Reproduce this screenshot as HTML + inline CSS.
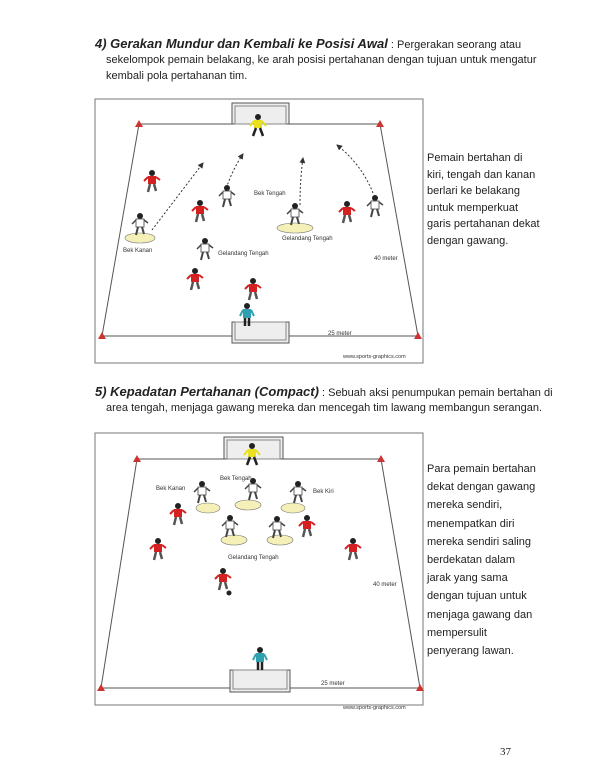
<!DOCTYPE html>
<html><head><meta charset="utf-8"><style>
body{margin:0;background:#fff;width:600px;height:775px;position:relative;overflow:hidden;font-family:"Liberation Sans",sans-serif;color:#222}
.t{position:absolute;font-size:11px;line-height:16px;white-space:nowrap}
.h{font-weight:bold;font-style:italic;font-size:13px}
svg{position:absolute;left:0;top:0}
</style></head><body>
<div class="t" style="left:95px;top:36px"><span class="h">4) Gerakan Mundur dan Kembali ke Posisi Awal</span> : Pergerakan seorang atau</div>
<div class="t" style="left:106px;top:52px">sekelompok pemain belakang, ke arah posisi pertahanan dengan tujuan untuk mengatur</div>
<div class="t" style="left:106px;top:68px">kembali pola pertahanan tim.</div>
<div class="t" style="left:427px;top:150px;line-height:16.5px">Pemain bertahan di<br>kiri, tengah dan kanan<br>berlari ke belakang<br>untuk memperkuat<br>garis pertahanan dekat<br>dengan gawang.</div>
<div class="t" style="left:95px;top:384px"><span class="h">5) Kepadatan Pertahanan (Compact)</span> : Sebuah aksi penumpukan pemain bertahan di</div>
<div class="t" style="left:106px;top:400px">area tengah, menjaga gawang mereka dan mencegah tim lawang membangun serangan.</div>
<div class="t" style="left:427px;top:460px;line-height:18.2px">Para pemain bertahan<br>dekat dengan gawang<br>mereka sendiri,<br>menempatkan diri<br>mereka sendiri saling<br>berdekatan dalam<br>jarak yang sama<br>dengan tujuan untuk<br>menjaga gawang dan<br>mempersulit<br>penyerang lawan.</div>
<div class="t" style="left:500px;top:744px;font-family:'Liberation Serif',serif">37</div>
<svg width="600" height="775" font-family="Liberation Sans,sans-serif" font-size="6" fill="#333">
<defs>
<marker id="ah" markerWidth="6" markerHeight="6" refX="5" refY="3" orient="auto" markerUnits="userSpaceOnUse"><path d="M0 0L6 3L0 6Z" fill="#333"/></marker>
<g id="pr"><circle cx="0" cy="-10" r="3" fill="#222"/><rect x="-4" y="-7" width="8" height="8" fill="#d42020"/><path d="M-4-6L-8-2M4-6L8-3" stroke="#d42020" stroke-width="2"/><path d="M-2 1L-4 9M2 1L4 8" stroke="#555" stroke-width="2.5"/></g>
<g id="pw"><circle cx="0" cy="-10" r="3" fill="#222"/><rect x="-4" y="-7" width="8" height="8" fill="#fff" stroke="#444" stroke-width="0.8"/><path d="M-4-6L-8-2M4-6L8-3" stroke="#444" stroke-width="1.5"/><path d="M-2 1L-4 9M2 1L4 8" stroke="#444" stroke-width="2"/></g>
<g id="py"><circle cx="0" cy="-10" r="3" fill="#222"/><rect x="-4" y="-7" width="8" height="8" fill="#e8e020"/><path d="M-4-6L-8-1M4-6L8-1" stroke="#e8e020" stroke-width="2"/><path d="M-2 1L-5 9M2 1L5 9" stroke="#222" stroke-width="2.5"/></g>
<g id="pb"><circle cx="0" cy="-10" r="3" fill="#222"/><rect x="-4" y="-7" width="8" height="9" fill="#30a0b0"/><path d="M-4-6L-7 0M4-6L7 0" stroke="#30a0b0" stroke-width="2"/><path d="M-2 2L-2 10M2 2L2 10" stroke="#222" stroke-width="2.5"/></g>
<g id="cone"><path d="M-4 3L0-4L4 3Z" fill="#c33"/></g>
</defs>
<rect x="95" y="99" width="328" height="264" fill="#fff" stroke="#777" stroke-width="1"/>
<path d="M139 124L380 124L418 336L102 336Z" fill="none" stroke="#555" stroke-width="1"/>
<rect x="232" y="103" width="57" height="21" fill="#eee" stroke="#555"/><rect x="235" y="106" width="51" height="18" fill="none" stroke="#888"/>
<rect x="232" y="322" width="57" height="21" fill="#eee" stroke="#555"/><rect x="235" y="322" width="51" height="18" fill="none" stroke="#888"/>
<use href="#cone" x="139" y="124"/><use href="#cone" x="380" y="124"/><use href="#cone" x="102" y="336"/><use href="#cone" x="418" y="336"/>
<g stroke="#333" stroke-dasharray="2 2" fill="none" stroke-width="1" marker-end="url(#ah)">
<path d="M152 230L203 163"/><path d="M225 192Q232 170 243 154"/><path d="M300 205Q300 180 303 158"/><path d="M373 193Q362 165 337 145"/></g>
<ellipse cx="140" cy="238" rx="15" ry="5" fill="#f5f0b8" stroke="#777" stroke-width=".6"/>
<ellipse cx="295" cy="228" rx="18" ry="5" fill="#f5f0b8" stroke="#777" stroke-width=".6"/>
<use href="#py" x="258" y="127"/>
<use href="#pr" x="152" y="183"/><use href="#pr" x="200" y="213"/><use href="#pw" x="227" y="198"/><use href="#pw" x="140" y="226"/>
<use href="#pw" x="295" y="216"/><use href="#pr" x="347" y="214"/><use href="#pw" x="375" y="208"/><use href="#pw" x="205" y="251"/>
<use href="#pr" x="195" y="281"/><use href="#pr" x="253" y="291"/><use href="#pb" x="247" y="316"/>
<text x="254" y="195">Bek Tengah</text><text x="123" y="252">Bek Kanan</text><text x="218" y="255">Gelandang Tengah</text>
<text x="282" y="240">Gelandang Tengah</text><text x="374" y="260">40 meter</text><text x="328" y="335">25 meter</text>
<text x="343" y="358" font-size="5.5">www.sports-graphics.com</text>
<rect x="95" y="433" width="328" height="272" fill="#fff" stroke="#777" stroke-width="1"/>
<path d="M137 459L381 459L420 688L101 688Z" fill="none" stroke="#555" stroke-width="1"/>
<rect x="224" y="437" width="59" height="22" fill="#eee" stroke="#555"/><rect x="227" y="440" width="53" height="19" fill="none" stroke="#888"/>
<rect x="230" y="670" width="60" height="22" fill="#eee" stroke="#555"/><rect x="233" y="670" width="54" height="19" fill="none" stroke="#888"/>
<use href="#cone" x="137" y="459"/><use href="#cone" x="381" y="459"/><use href="#cone" x="101" y="688"/><use href="#cone" x="420" y="688"/>
<g fill="#f5f0b8" stroke="#777" stroke-width=".6">
<ellipse cx="208" cy="508" rx="12" ry="5"/><ellipse cx="248" cy="505" rx="13" ry="5"/><ellipse cx="293" cy="508" rx="12" ry="5"/>
<ellipse cx="234" cy="540" rx="13" ry="5"/><ellipse cx="280" cy="540" rx="13" ry="5"/></g>
<use href="#py" x="252" y="456"/>
<use href="#pw" x="202" y="494"/><use href="#pw" x="253" y="491"/><use href="#pw" x="298" y="494"/><use href="#pw" x="230" y="528"/><use href="#pw" x="277" y="529"/>
<use href="#pr" x="178" y="516"/><use href="#pr" x="158" y="551"/><use href="#pr" x="223" y="581"/><use href="#pr" x="307" y="528"/><use href="#pr" x="353" y="551"/>
<circle cx="229" cy="593" r="2.5" fill="#222"/>
<use href="#pb" x="260" y="660"/>
<text x="156" y="490">Bek Kanan</text><text x="220" y="480">Bek Tengah</text><text x="313" y="493">Bek Kiri</text>
<text x="228" y="559">Gelandang Tengah</text><text x="373" y="586">40 meter</text><text x="321" y="685">25 meter</text>
<text x="343" y="709" font-size="5.5">www.sports-graphics.com</text>
</svg>
</body></html>
